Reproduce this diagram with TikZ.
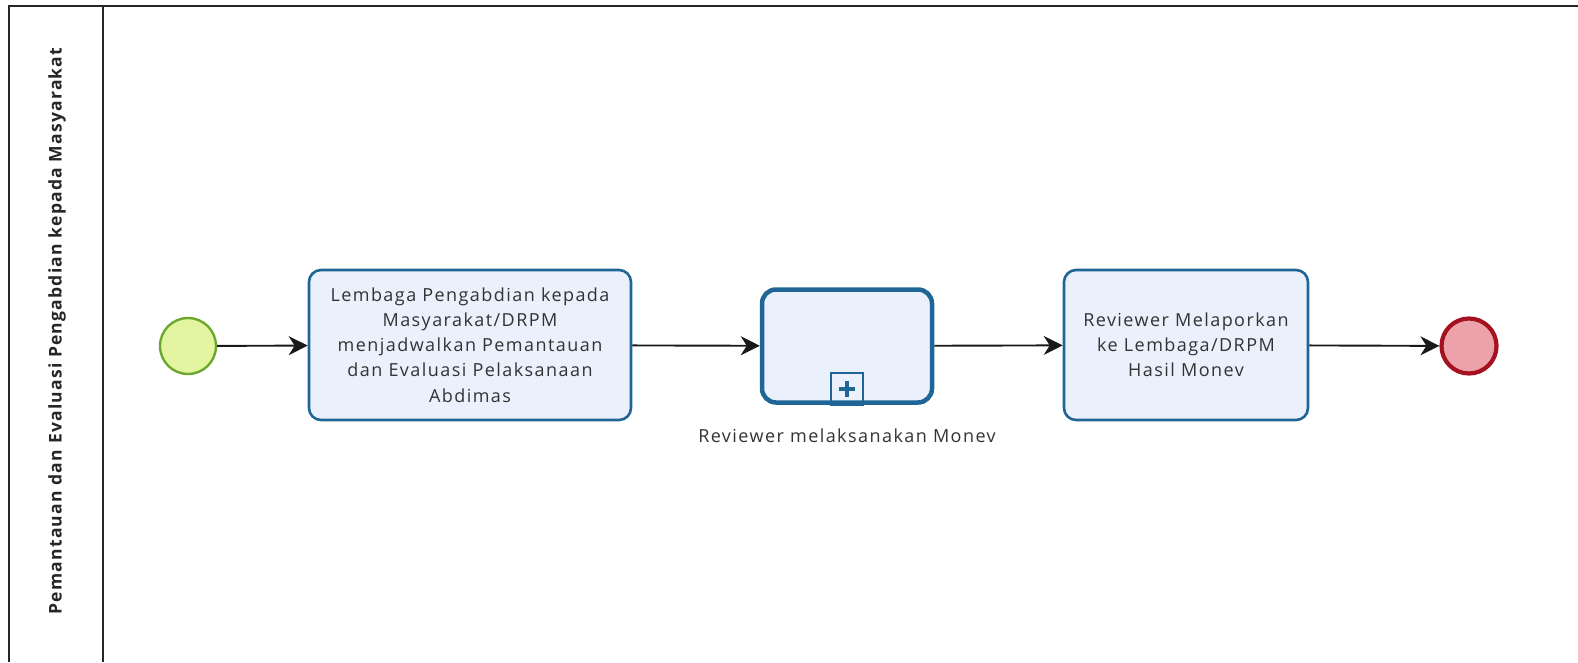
\documentclass[tikz,border=0pt]{standalone}
\usepackage{fontspec}
\setmainfont{Open Sans}
\newfontfamily\spacedfont[LetterSpace=8]{Open Sans}
\newfontfamily\spacedbold[LetterSpace=7]{Open Sans Bold}
\usetikzlibrary{arrows.meta}
\definecolor{taskfill}{HTML}{EAF0FC}
\definecolor{taskline}{HTML}{1F6696}
\definecolor{startfill}{HTML}{E4F5A2}
\definecolor{startline}{HTML}{6CA82E}
\definecolor{endfill}{HTML}{EBA2A8}
\definecolor{endline}{HTML}{A5111E}
\begin{document}
\begin{tikzpicture}[x=1pt,y=-1pt,
  pool/.style={draw=black!85,line width=2pt},
  tasktext/.style={font=\spacedfont\fontsize{18}{25.2}\selectfont,align=center,text=black!80},
  taskbox/.style={draw=taskline,fill=taskfill,line width=2.6pt,rounded corners=12pt,inner sep=0pt},
  subbox/.style={draw=taskline,fill=taskfill,line width=4.5pt,rounded corners=14pt,inner sep=0pt},
  startev/.style={circle,draw=startline,fill=startfill,line width=2.4pt,minimum size=56pt,inner sep=0pt},
  endev/.style={circle,draw=endline,fill=endfill,line width=4.2pt,minimum size=55pt,inner sep=0pt},
  flow/.style={draw=black!90,line width=1.9pt,-{Stealth[length=19pt,width=19pt,inset=6pt]}}
]
\useasboundingbox (0,0) rectangle (1578,662);
\fill[white] (0,0) rectangle (1578,662);
% pool
\draw[pool] (1578,6) -- (9,6) -- (9,662);
\draw[pool] (103,6) -- (103,662);
\node[rotate=90,font=\spacedbold\fontsize{17.5}{20}\selectfont,text=black!85] (lane) at (57,331)
  {Pemantauan dan Evaluasi Pengabdian kepada Masyarakat};
% events
\node[startev] (start) at (188,346) {};
\node[endev] (end) at (1469,346) {};
% tasks
\node[taskbox,minimum width=322pt,minimum height=150pt] (t1) at (470,345) {};
\node[tasktext] (t1txt) at (t1.center)
  {Lembaga Pengabdian kepada\\Masyarakat/DRPM\\menjadwalkan Pemantauan\\dan Evaluasi Pelaksanaan\\Abdimas};
\node[subbox,minimum width=170pt,minimum height=113pt] (sub) at (847,346) {};
\node[draw=taskline,line width=2.4pt,minimum width=32pt,minimum height=32pt,inner sep=0pt,
      anchor=south] (plus) at ([yshift=-1.5pt]sub.south) {};
\draw[taskline,line width=4.5pt] ([yshift=-8pt]plus.center) -- ([yshift=8pt]plus.center)
  ([xshift=-8pt]plus.center) -- ([xshift=8pt]plus.center);
\node[tasktext,anchor=north] (sublbl) at (847,425) {Reviewer melaksanakan Monev};
\node[taskbox,minimum width=244pt,minimum height=150pt] (t3) at (1186,345) {};
\node[tasktext] (t3txt) at (t3.center) {Reviewer Melaporkan\\ke Lembaga/DRPM\\Hasil Monev};
% flows
\draw[flow] (start) -- (t1);
\draw[flow] (t1) -- (sub);
\draw[flow] (sub) -- (t3);
\draw[flow] (t3) -- (end);
\end{tikzpicture}
\end{document}
